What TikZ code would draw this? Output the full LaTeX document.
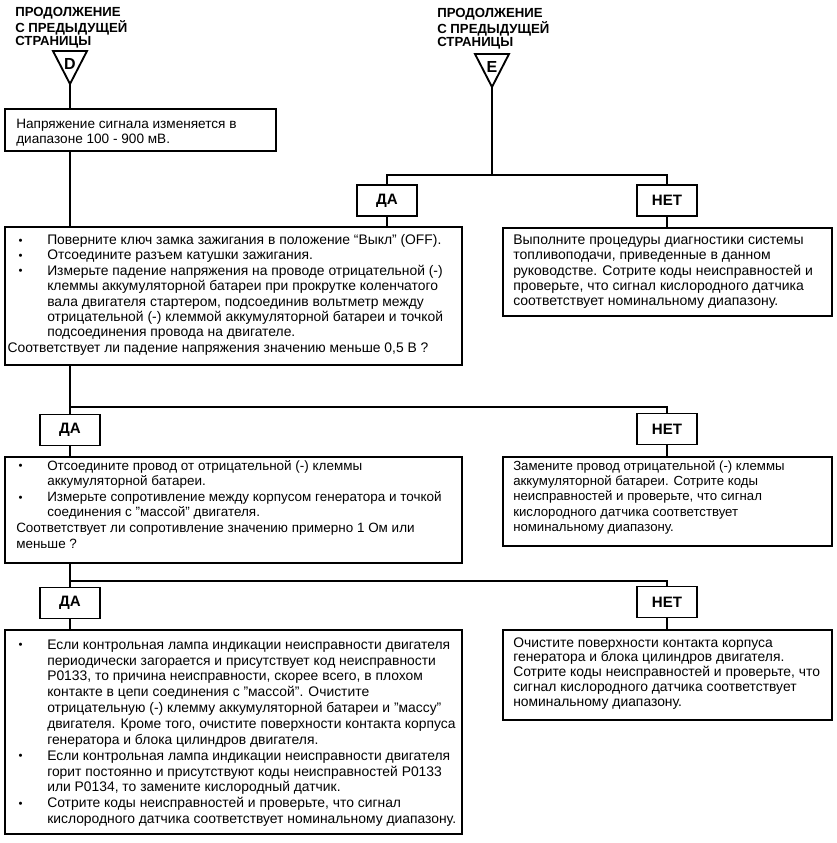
\documentclass[tikz,border=0pt]{standalone}
\usepackage{fontspec}
\setmainfont{Liberation Sans}
\usetikzlibrary{fit}
\newcommand\bodyfont[2]{\fontsize{#1pt}{#2pt}\selectfont}
\newcommand\hdrfont{\fontsize{9.9pt}{10.1pt}\selectfont\bfseries}
\newcommand\bul{\makebox[23.25pt][l]{\hspace{1.8pt}\raisebox{0.2pt}{\fontsize{8.5pt}{8.5pt}\selectfont\textbullet}}}
\newcommand\ind{\hspace*{23.25pt}}
\tikzset{
  box/.style={draw, line width=1.4pt, inner sep=0pt, rectangle},
  lbl/.style={draw, line width=1.4pt, inner sep=0pt, rectangle, minimum width=45pt, minimum height=23.25pt, font=\fontsize{11.3pt}{12pt}\selectfont\bfseries},
  txt/.style={anchor=north west, inner sep=0pt, align=left},
  hdr/.style={anchor=north west, inner sep=0pt, align=left, font=\hdrfont},
  wire/.style={line width=1.4pt},
  tri/.style={line width=1.4pt, line join=miter},
  trilbl/.style={inner sep=0pt, font=\fontsize{12pt}{12pt}\selectfont\bfseries}
}
\begin{document}
\begin{tikzpicture}[x=0.75pt,y=-0.75pt]
\useasboundingbox (0,0) rectangle (836,843);
% headers
\node[hdr] (hD) at (15,6.8) {\begin{tabular}{@{}l@{}}ПРОДОЛЖЕНИЕ\\С ПРЕДЫДУЩЕЙ\\СТРАНИЦЫ\end{tabular}};
\node[hdr] (hE) at (437,7.8) {\begin{tabular}{@{}l@{}}ПРОДОЛЖЕНИЕ\\С ПРЕДЫДУЩЕЙ\\СТРАНИЦЫ\end{tabular}};
% off-page connectors
\coordinate (dA) at (70,84);
\draw[tri] (53,51) -- (87,51) -- (dA) -- cycle;
\node[trilbl] (dL) at (70,63.5) {D};
\coordinate (eA) at (492,87);
\draw[tri] (475,54) -- (509,54) -- (eA) -- cycle;
\node[trilbl] (eL) at (492,66.5) {E};
% level y coordinates
\coordinate (h1) at (0,175);
\coordinate (h2) at (0,407);
\coordinate (h3) at (0,581);
% boxes
\node[box, fit={(5,109) (276,151)}] (b1) {};
\node[box, fit={(5,227) (462,365)}] (b2) {};
\node[box, fit={(503,228) (832,316)}] (r1) {};
\node[box, fit={(5,457) (462,563)}] (b3) {};
\node[box, fit={(503,457) (832,546)}] (r2) {};
\node[box, fit={(5,630) (462,834)}] (b5) {};
\node[box, fit={(503,630) (832,720)}] (r3) {};
% yes / no labels
\node[lbl] (da1) at (387,200.5) {ДА};
\node[lbl] (net1) at (667,200.5) {НЕТ};
\node[lbl] (da2) at (70,430) {ДА};
\node[lbl] (net2) at (667,429) {НЕТ};
\node[lbl] (da3) at (70,603) {ДА};
\node[lbl] (net3) at (667,602) {НЕТ};
% texts
\node[txt] (t1) at (16,117.3) {\bodyfont{10.2}{11.25}\begin{tabular}{@{}l@{}}
Напряжение сигнала изменяется в\\
диапазоне 100 - 900 мВ.\end{tabular}};
\node[txt] (t2) at (16,233.4) {\bodyfont{10.4}{11.55}\begin{tabular}{@{}l@{}}
\bul Поверните ключ замка зажигания в положение “Выкл” (OFF).\\
\bul Отсоедините разъем катушки зажигания.\\
\bul Измерьте падение напряжения на проводе отрицательной (-)\\
\ind клеммы аккумуляторной батареи при прокрутке коленчатого\\
\ind вала двигателя стартером, подсоединив вольтметр между\\
\ind отрицательной (-) клеммой аккумуляторной батареи и точкой\\
\ind подсоединения провода на двигателе.\\
\hspace*{-6.5pt}Соответствует ли падение напряжения значению меньше 0,5 В ?\end{tabular}};
\node[txt] (t3) at (513,233.4) {\bodyfont{10.5}{11.5}\begin{tabular}{@{}l@{}}
Выполните процедуры диагностики системы\\
топливоподачи, приведенные в данном\\
руководстве. Сотрите коды неисправностей и\\
проверьте, что сигнал кислородного датчика\\
соответствует номинальному диапазону.\end{tabular}};
\node[txt] (t4) at (16,459) {\bodyfont{10.1}{11.7}\begin{tabular}{@{}l@{}}
\bul Отсоедините провод от отрицательной (-) клеммы\\
\ind аккумуляторной батареи.\\
\bul Измерьте сопротивление между корпусом генератора и точкой\\
\ind соединения с "массой" двигателя.\\
Соответствует ли сопротивление значению примерно 1 Ом или\\
меньше ?\end{tabular}};
\node[txt] (t5) at (513,459.6) {\bodyfont{9.9}{11.4}\begin{tabular}{@{}l@{}}
Замените провод отрицательной (-) клеммы\\
аккумуляторной батареи. Сотрите коды\\
неисправностей и проверьте, что сигнал\\
кислородного датчика соответствует\\
номинальному диапазону.\end{tabular}};
\node[txt] (t6) at (16,637.8) {\bodyfont{10.4}{11.9}\begin{tabular}{@{}l@{}}
\bul Если контрольная лампа индикации неисправности двигателя\\
\ind периодически загорается и присутствует код неисправности\\
\ind P0133, то причина неисправности, скорее всего, в плохом\\
\ind контакте в цепи соединения с "массой". Очистите\\
\ind отрицательную (-) клемму аккумуляторной батареи и "массу"\\
\ind двигателя. Кроме того, очистите поверхности контакта корпуса\\
\ind генератора и блока цилиндров двигателя.\\
\bul Если контрольная лампа индикации неисправности двигателя\\
\ind горит постоянно и присутствуют коды неисправностей P0133\\
\ind или P0134, то замените кислородный датчик.\\
\bul Сотрите коды неисправностей и проверьте, что сигнал\\
\ind кислородного датчика соответствует номинальному диапазону.\end{tabular}};
\node[txt] (t7) at (513,636.3) {\bodyfont{10.4}{11.2}\begin{tabular}{@{}l@{}}
Очистите поверхности контакта корпуса\\
генератора и блока цилиндров двигателя.\\
Сотрите коды неисправностей и проверьте, что\\
сигнал кислородного датчика соответствует\\
номинальному диапазону.\end{tabular}};
% connectors
\draw[wire] (dA) -- (dA |- b1.north);
\draw[wire] (dA |- b1.south) -- (dA |- b2.north);
\draw[wire] (eA) -- (eA |- h1);
\draw[wire] (da1.north) -- (da1.north |- h1) -- (net1.north |- h1) -- (net1.north);
\draw[wire] (da1.south) -- (da1.south |- b2.north);
\draw[wire] (net1.south) -- (net1.south |- r1.north);
\draw[wire] (da2.north |- b2.south) -- (da2.north);
\draw[wire] (da2.north |- h2) -- (net2.north |- h2) -- (net2.north);
\draw[wire] (da2.south) -- (da2.south |- b3.north);
\draw[wire] (net2.south) -- (net2.south |- r2.north);
\draw[wire] (da3.north |- b3.south) -- (da3.north);
\draw[wire] (da3.north |- h3) -- (net3.north |- h3) -- (net3.north);
\draw[wire] (da3.south) -- (da3.south |- b5.north);
\draw[wire] (net3.south) -- (net3.south |- r3.north);
\end{tikzpicture}
\end{document}
